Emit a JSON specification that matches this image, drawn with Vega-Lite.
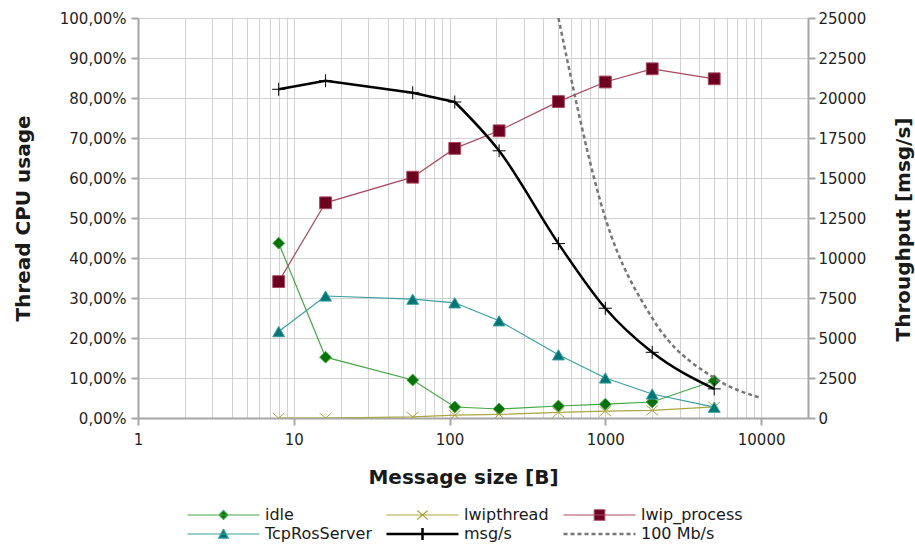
{
  "$schema": "https://vega.github.io/schema/vega-lite/v6.json",
  "autosize": {"type": "none"},
  "width": 670,
  "height": 400,
  "padding": {"left": 138, "top": 18, "right": 107, "bottom": 128},
  "background": "white",
  "data": {"values": [
    {"s": 8, "series": "idle", "v": 0.437},
    {"s": 16, "series": "idle", "v": 0.152},
    {"s": 58, "series": "idle", "v": 0.095},
    {"s": 108, "series": "idle", "v": 0.0275},
    {"s": 208, "series": "idle", "v": 0.0225},
    {"s": 500, "series": "idle", "v": 0.030},
    {"s": 1000, "series": "idle", "v": 0.0345},
    {"s": 2000, "series": "idle", "v": 0.040},
    {"s": 5000, "series": "idle", "v": 0.093},
    {"s": 8, "series": "lwipthread", "v": 0.0},
    {"s": 16, "series": "lwipthread", "v": 0.0},
    {"s": 58, "series": "lwipthread", "v": 0.003},
    {"s": 108, "series": "lwipthread", "v": 0.007},
    {"s": 208, "series": "lwipthread", "v": 0.009},
    {"s": 500, "series": "lwipthread", "v": 0.014},
    {"s": 1000, "series": "lwipthread", "v": 0.017},
    {"s": 2000, "series": "lwipthread", "v": 0.019},
    {"s": 5000, "series": "lwipthread", "v": 0.028},
    {"s": 8, "series": "lwip_process", "v": 0.341},
    {"s": 16, "series": "lwip_process", "v": 0.538},
    {"s": 58, "series": "lwip_process", "v": 0.602},
    {"s": 108, "series": "lwip_process", "v": 0.674},
    {"s": 208, "series": "lwip_process", "v": 0.718},
    {"s": 500, "series": "lwip_process", "v": 0.791},
    {"s": 1000, "series": "lwip_process", "v": 0.840},
    {"s": 2000, "series": "lwip_process", "v": 0.873},
    {"s": 5000, "series": "lwip_process", "v": 0.848},
    {"s": 8, "series": "TcpRosServer", "v": 0.216},
    {"s": 16, "series": "TcpRosServer", "v": 0.305},
    {"s": 58, "series": "TcpRosServer", "v": 0.297},
    {"s": 108, "series": "TcpRosServer", "v": 0.288},
    {"s": 208, "series": "TcpRosServer", "v": 0.243},
    {"s": 500, "series": "TcpRosServer", "v": 0.158},
    {"s": 1000, "series": "TcpRosServer", "v": 0.100},
    {"s": 2000, "series": "TcpRosServer", "v": 0.060},
    {"s": 5000, "series": "TcpRosServer", "v": 0.027},
    {"s": 8, "series": "msg/s", "v": 20544},
    {"s": 16, "series": "msg/s", "v": 21081},
    {"s": 58, "series": "msg/s", "v": 20331},
    {"s": 108, "series": "msg/s", "v": 19750},
    {"s": 208, "series": "msg/s", "v": 16700},
    {"s": 500, "series": "msg/s", "v": 10900},
    {"s": 1000, "series": "msg/s", "v": 6860},
    {"s": 2000, "series": "msg/s", "v": 4106},
    {"s": 5000, "series": "msg/s", "v": 1820},
    {"s": 500, "series": "100 Mb/s", "v": 25000},
    {"s": 1000, "series": "100 Mb/s", "v": 12500},
    {"s": 2000, "series": "100 Mb/s", "v": 6250},
    {"s": 5000, "series": "100 Mb/s", "v": 2500},
    {"s": 10000, "series": "100 Mb/s", "v": 1250}
  ]},
  "encoding": {
    "x": {
      "field": "s", "type": "quantitative", "title": "Message size [B]",
      "scale": {"type": "log", "domain": [1, 20000], "nice": false},
      "axis": {
        "values": [1,2,3,4,5,6,7,8,9,10,20,30,40,50,60,70,80,90,100,200,300,400,500,600,700,800,900,1000,2000,3000,4000,5000,6000,7000,8000,9000,10000,20000],
        "format": "d",
        "labelExpr": "indexof([1,10,100,1000,10000], datum.value) >= 0 ? datum.label : ''",
        "tickOpacity": {"condition": {"test": "indexof([1,10,100,1000,10000], datum.value) >= 0", "value": 1}, "value": 0},
        "grid": true,
        "labelPadding": 7,
        "labelFlush": false,
        "labelOverlap": false,
        "titleX": 325, "titleY": 65, "titleAlign": "center", "titleBaseline": "alphabetic"
      }
    }
  },
  "layer": [
    {
      "layer": [
        {
          "transform": [{"filter": "datum.series != 'msg/s' && datum.series != '100 Mb/s'"}],
          "mark": {"type": "line", "strokeWidth": 1.2, "clip": true},
          "encoding": {
            "y": {
              "field": "v", "type": "quantitative", "title": "Thread CPU usage",
              "scale": {"domain": [0, 1], "nice": false},
              "axis": {
                "values": [0,0.1,0.2,0.3,0.4,0.5,0.6,0.7,0.8,0.9,1],
                "labelExpr": "replace(format(datum.value, '.2%'), '.', ',')",
                "grid": true, "labelPadding": 5, "labelOverlap": false,
                "titleAngle": -90, "titleX": -109, "titleY": 200, "titleAlign": "center", "titleBaseline": "alphabetic"
              }
            },
            "stroke": {
              "field": "series", "type": "nominal",
              "scale": {
                "domain": ["idle", "lwipthread", "lwip_process", "TcpRosServer", "msg/s", "100 Mb/s"],
                "range": ["#45a545", "#aaa640", "#a8485f", "#3a9e9e", "#000000", "#777777"]
              },
              "legend": {
                "orient": "none", "legendX": 49, "legendY": 489,
                "direction": "horizontal", "columns": 3, "title": null,
                "symbolSize": 225, "labelFontSize": 16, "labelFont": "DejaVu Sans", "labelColor": "#1a1a1a",
                "labelOffset": 62, "columnPadding": 9, "rowPadding": 0,
                "encoding": {"symbols": {
                  "shape": {"value": {"expr": "datum.value === 'idle' ? 'M-1,0H8.6M3.8,-0.6L4.4,0L3.8,0.6L3.2,0Z' : datum.value === 'lwipthread' ? 'M-1,0H8.6M3.1,-0.6L4.5,0.6M3.1,0.6L4.5,-0.6' : datum.value === 'lwip_process' ? 'M-1,0H8.6M3.1,-0.7H4.5V0.7H3.1Z' : datum.value === 'TcpRosServer' ? 'M-1,0H8.6M3.8,-0.65L4.45,0.55H3.15Z' : datum.value === 'msg/s' ? 'M-1,0H8.6M3.8,-0.8V0.8' : 'M-1,0H8.6'"}},
                  "fill": {"value": {"expr": "datum.value === 'idle' ? '#077207' : datum.value === 'lwipthread' ? '#a8a43a' : datum.value === 'lwip_process' ? '#6b0020' : datum.value === 'TcpRosServer' ? '#007575' : 'transparent'"}},
                  "strokeWidth": {"value": {"expr": "datum.value === 'msg/s' || datum.value === '100 Mb/s' ? 2.5 : 1.2"}},
                  "strokeDash": {"value": {"expr": "datum.value === '100 Mb/s' ? [4,3] : [100,0]"}},
                  "opacity": {"value": 1}
                }}
              }
            }
          }
        },
        {
          "transform": [{"filter": "datum.series != 'msg/s' && datum.series != '100 Mb/s'"}],
          "mark": {"type": "point", "filled": false, "size": 140, "strokeWidth": 1, "opacity": 1, "clip": true},
          "encoding": {
            "y": {
              "field": "v", "type": "quantitative", "title": "Thread CPU usage",
              "scale": {"domain": [0, 1], "nice": false},
              "axis": {
                "values": [0,0.1,0.2,0.3,0.4,0.5,0.6,0.7,0.8,0.9,1],
                "labelExpr": "replace(format(datum.value, '.2%'), '.', ',')",
                "grid": true, "labelPadding": 5, "labelOverlap": false,
                "titleAngle": -90, "titleX": -109, "titleY": 200, "titleAlign": "center", "titleBaseline": "alphabetic"
              }
            },
            "stroke": {"field": "series", "type": "nominal", "legend": null},
            "fill": {
              "field": "series", "type": "nominal", "legend": null,
              "scale": {
                "domain": ["idle", "lwipthread", "lwip_process", "TcpRosServer", "msg/s"],
                "range": ["#077207", "#a8a43a", "#6b0020", "#007575", "#000000"]
              }
            },
            "shape": {
              "field": "series", "type": "nominal", "legend": null,
              "scale": {
                "domain": ["idle", "lwipthread", "lwip_process", "TcpRosServer", "msg/s"],
                "range": ["diamond", "M-1,-0.85L1,0.85M-1,0.85L1,-0.85", "square", "triangle-up", "M-1,0H1M0,-1V1"]
              }
            }
          }
        }
      ]
    },
    {
      "layer": [
        {
          "transform": [{"filter": "datum.series == 'msg/s' && datum.s <= 108"}],
          "mark": {"type": "line", "strokeWidth": 2.5, "clip": true},
          "encoding": {
            "y": {
              "field": "v", "type": "quantitative", "title": "Throughput [msg/s]",
              "scale": {"domain": [0, 25000], "nice": false},
              "axis": {
                "orient": "right",
                "values": [0,2500,5000,7500,10000,12500,15000,17500,20000,22500,25000],
                "format": "d", "grid": false, "labelPadding": 3, "labelOverlap": false,
                "titleAngle": -90, "titleX": 101, "titleY": 211, "titleAlign": "center", "titleBaseline": "alphabetic"
              }
            },
            "stroke": {"field": "series", "type": "nominal", "legend": null}
          }
        },
        {
          "transform": [{"filter": "datum.series == 'msg/s' && datum.s >= 108"}],
          "mark": {"type": "line", "strokeWidth": 2.5, "interpolate": "monotone", "clip": true},
          "encoding": {
            "y": {
              "field": "v", "type": "quantitative", "title": "Throughput [msg/s]",
              "scale": {"domain": [0, 25000], "nice": false},
              "axis": {
                "orient": "right",
                "values": [0,2500,5000,7500,10000,12500,15000,17500,20000,22500,25000],
                "format": "d", "grid": false, "labelPadding": 3, "labelOverlap": false,
                "titleAngle": -90, "titleX": 101, "titleY": 211, "titleAlign": "center", "titleBaseline": "alphabetic"
              }
            },
            "stroke": {"field": "series", "type": "nominal", "legend": null}
          }
        },
        {
          "transform": [{"filter": "datum.series == '100 Mb/s'"}],
          "mark": {"type": "line", "strokeWidth": 2.5, "strokeDash": [4, 3], "interpolate": "monotone", "clip": true},
          "encoding": {
            "y": {
              "field": "v", "type": "quantitative", "title": "Throughput [msg/s]",
              "scale": {"domain": [0, 25000], "nice": false},
              "axis": {
                "orient": "right",
                "values": [0,2500,5000,7500,10000,12500,15000,17500,20000,22500,25000],
                "format": "d", "grid": false, "labelPadding": 3, "labelOverlap": false,
                "titleAngle": -90, "titleX": 101, "titleY": 211, "titleAlign": "center", "titleBaseline": "alphabetic"
              }
            },
            "stroke": {"field": "series", "type": "nominal", "legend": null}
          }
        },
        {
          "transform": [{"filter": "datum.series == 'msg/s'"}],
          "mark": {"type": "point", "filled": false, "size": 169, "strokeWidth": 1, "opacity": 1, "clip": true},
          "encoding": {
            "y": {
              "field": "v", "type": "quantitative", "title": "Throughput [msg/s]",
              "scale": {"domain": [0, 25000], "nice": false},
              "axis": {
                "orient": "right",
                "values": [0,2500,5000,7500,10000,12500,15000,17500,20000,22500,25000],
                "format": "d", "grid": false, "labelPadding": 3, "labelOverlap": false,
                "titleAngle": -90, "titleX": 101, "titleY": 211, "titleAlign": "center", "titleBaseline": "alphabetic"
              }
            },
            "stroke": {"field": "series", "type": "nominal", "legend": null},
            "fill": {"field": "series", "type": "nominal", "legend": null},
            "shape": {"field": "series", "type": "nominal", "legend": null}
          }
        }
      ]
    }
  ],
  "resolve": {"scale": {"y": "independent"}},
  "config": {
    "view": {"stroke": null},
    "font": "DejaVu Sans",
    "axis": {
      "domainColor": "#a6a6a6", "domainWidth": 2,
      "tickColor": "#a6a6a6", "tickWidth": 2, "tickSize": 7,
      "gridColor": "#d2d2d2", "gridWidth": 1,
      "labelOverlap": false,
      "labelFont": "DejaVu Sans", "labelFontSize": 15, "labelColor": "#1f1f1f",
      "titleFont": "DejaVu Sans", "titleFontSize": 20, "titleFontWeight": "bold", "titleColor": "#1a1a1a"
    }
  }
}
